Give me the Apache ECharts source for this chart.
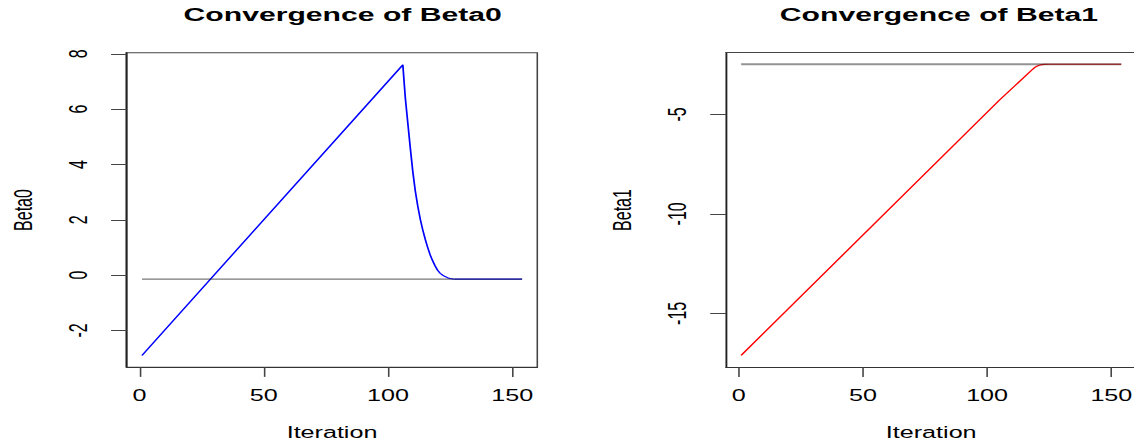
<!DOCTYPE html>
<html>
<head>
<meta charset="utf-8">
<script src="https://cdn.jsdelivr.net/npm/echarts@6/dist/echarts.min.js"></script>
<style>
  html, body { margin: 0; padding: 0; background: #fff; overflow: hidden; }
  #wrap { width: 1134px; height: 445px; overflow: hidden; position: relative; }
  #chart { width: 722px; height: 445px; transform: scaleX(1.5706); transform-origin: 0 0; }
</style>
</head>
<body>
<div id="wrap"><div id="chart"></div></div>
<script>
// ---- data ----
const titles = ['Convergence of Beta0', 'Convergence of Beta1'];
const xTicks = [0, 50, 100, 150];
const beta0Ticks = [-2, 0, 2, 4, 6, 8];
const beta1Ticks = [-15, -10, -5];

const beta0Iter = [1, 106, 107, 108, 109, 110, 111, 112, 113, 114, 115, 116, 117, 118, 119, 120, 121, 122, 123, 124, 125, 126, 127, 154];
const beta0Vals = [-2.9, 7.6, 6.4, 5.5, 4.6, 3.75, 3.05, 2.5, 2.03, 1.64, 1.3, 1.0, 0.73, 0.52, 0.33, 0.18, 0.07, 0.0, -0.05, -0.09, -0.12, -0.135, -0.145, -0.145];

const beta1Iter = [1, 105, 118, 119, 120, 121, 122, 123, 125, 154];
const beta1Vals = [-17.11, -4.28, -2.77, -2.66, -2.58, -2.53, -2.5, -2.485, -2.48, -2.48];

const refIter = [1, 154];
const beta0Ref = [-0.145, -0.145];
const beta1Ref = [-2.48, -2.48];

function pairs(xs, ys) { return xs.map((x, i) => [x, ys[i]]); }

const FONT = 'Liberation Sans, Arial, Helvetica, sans-serif';
const grids = [
  { left: 80.7, top: 52.7, width: 261.4, height: 314.6, show: true, borderColor: '#444', borderWidth: 1, outerBoundsMode: 'none', containLabel: false },
  { left: 462.2, top: 52.7, width: 261.4, height: 314.6, show: false, outerBoundsMode: 'none', containLabel: false }
];

function xAxis(gi) {
  return {
    type: 'value', gridIndex: gi, min: -5.12, max: 160.12,
    name: 'Iteration', nameLocation: 'middle', nameGap: 57,
    nameTextStyle: { fontFamily: FONT, fontSize: 16, color: '#000' },
    splitLine: { show: false },
    axisLine: { show: true, onZero: false, lineStyle: { color: '#333', width: 1 } },
    axisTick: { show: true, length: 9.6, customValues: xTicks, lineStyle: { color: '#444', width: 1 } },
    axisLabel: { customValues: xTicks, margin: 20, fontFamily: FONT, fontSize: 16, color: '#000' }
  };
}
// top frame line for the right panel (its right edge lies outside the picture)
const topFrame = {
  type: 'value', gridIndex: 1, position: 'top', min: -5.12, max: 160.12,
  splitLine: { show: false }, axisTick: { show: false }, axisLabel: { show: false },
  axisLine: { show: true, onZero: false, lineStyle: { color: '#444', width: 1 } }
};
function yAxis(gi, name, min, max, ticks) {
  return {
    type: 'value', gridIndex: gi, min: min, max: max,
    name: name, nameLocation: 'middle', nameGap: 58, nameRotate: 90,
    nameTextStyle: { fontFamily: FONT, fontSize: 16, color: '#000' },
    splitLine: { show: false },
    axisLine: { show: true, onZero: false, lineStyle: { color: '#222', width: 1.2 } },
    axisTick: { show: true, length: 10, customValues: ticks, lineStyle: { color: '#444', width: 1 } },
    axisLabel: { customValues: ticks, rotate: 90, margin: 23, fontFamily: FONT, fontSize: 16, color: '#000' }
  };
}

const chart = echarts.init(document.getElementById('chart'), null, { renderer: 'svg' });
chart.setOption({
  animation: false,
  backgroundColor: '#fff',
  title: [
    { text: titles[0], left: 111.9, top: 0, textStyle: { fontFamily: FONT, fontWeight: 'bold', fontSize: 19.2, color: '#000' } },
    { text: titles[1], left: 491.5, top: 0, textStyle: { fontFamily: FONT, fontWeight: 'bold', fontSize: 19.2, color: '#000' } }
  ],
  grid: grids,
  xAxis: [xAxis(0), xAxis(1), topFrame],
  yAxis: [yAxis(0, 'Beta0', -3.33, 8.04, beta0Ticks), yAxis(1, 'Beta1', -17.71, -1.9, beta1Ticks)],
  series: [
    { type: 'line', xAxisIndex: 0, yAxisIndex: 0, data: pairs(beta0Iter, beta0Vals), showSymbol: false, smooth: false,
      lineStyle: { color: '#0000ff', width: 1.1 }, z: 2 },
    { type: 'line', xAxisIndex: 0, yAxisIndex: 0, data: pairs(refIter, beta0Ref), showSymbol: false,
      lineStyle: { color: 'rgba(30,30,30,0.6)', width: 1.2 }, z: 3 },
    { type: 'line', xAxisIndex: 1, yAxisIndex: 1, data: pairs(beta1Iter, beta1Vals), showSymbol: false, smooth: false,
      lineStyle: { color: '#ff0000', width: 1.1 }, z: 2 },
    { type: 'line', xAxisIndex: 1, yAxisIndex: 1, data: pairs(refIter, beta1Ref), showSymbol: false,
      lineStyle: { color: 'rgba(40,40,40,0.5)', width: 1.8 }, z: 3 }
  ]
});
</script>
</body>
</html>
